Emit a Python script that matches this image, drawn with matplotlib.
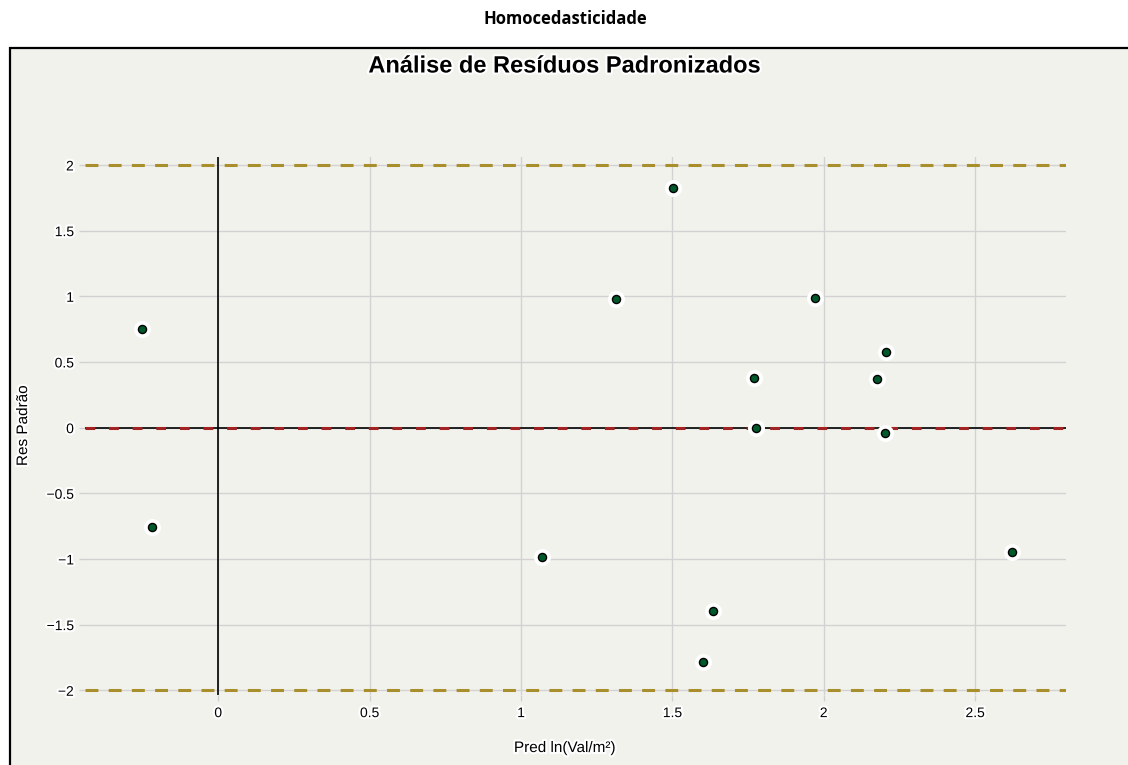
import numpy as np
import matplotlib
matplotlib.use('Agg')
import matplotlib.pyplot as plt
import matplotlib.patheffects as pe
from matplotlib.patches import Rectangle

# valores (predito x residuo padronizado)
pred = [-0.253, -0.218, 1.069, 1.313, 1.503, 1.602, 1.634, 1.769, 1.776,
        1.971, 2.177, 2.201, 2.204, 2.621]
res = [0.749, -0.757, -0.983, 0.982, 1.822, -1.788, -1.394, 0.380, -0.005,
       0.989, 0.372, -0.043, 0.578, -0.947]

xticks = [0, 0.5, 1, 1.5, 2, 2.5]
xtick_labels = ['0', '0.5', '1', '1.5', '2', '2.5']
yticks = [-2, -1.5, -1, -0.5, 0, 0.5, 1, 1.5, 2]
ytick_labels = ['\u22122', '\u22121.5', '\u22121', '\u22120.5', '0', '0.5', '1', '1.5', '2']

plt.rcParams['font.family'] = ['Liberation Sans', 'DejaVu Sans']
plt.rcParams['lines.scale_dashes'] = False

halo = [pe.withStroke(linewidth=3, foreground='white')]
bg = '#f2f2ed'

fig = plt.figure(figsize=(11.28, 7.65), dpi=100)
fig.patch.set_facecolor('white')

# caixa do painel
fig.patches.append(Rectangle((10 / 1128, -0.05), 1.2, 0.05 + 1 - 47.5 / 765,
                             transform=fig.transFigure, facecolor=bg,
                             edgecolor='black', linewidth=1.6, zorder=-5))

fig.text(565 / 1128, 1 - 19 / 765, 'Homocedasticidade', ha='center', va='center',
         fontsize=12, fontweight='bold', family=['Open Sans', 'DejaVu Sans'])
fig.text(565 / 1128, 1 - 66 / 765, 'Análise de Resíduos Padronizados',
         ha='center', va='center', fontsize=17, fontweight='bold',
         color='black', path_effects=halo)

ax = fig.add_axes([85 / 1128, 1 - 695 / 765, (1066 - 85) / 1128, (695 - 156.7) / 765])
ax.set_facecolor(bg)
for s in ax.spines.values():
    s.set_visible(False)

ax.set_xlim(-0.44, 2.8)
ax.set_ylim(-2.036, 2.063)
ax.set_xticks(xticks)
ax.set_xticklabels(xtick_labels)
ax.set_yticks(yticks)
ax.set_yticklabels(ytick_labels)
ax.tick_params(length=4, width=1, color='#d0d0d0', labelsize=10, pad=4)
for lab in ax.get_xticklabels() + ax.get_yticklabels():
    lab.set_path_effects(halo)
ax.grid(True, color='#d2d2d2', linewidth=1)
ax.set_axisbelow(True)

# linhas de zero
ax.axvline(0, color='black', linewidth=1.2, zorder=2)
ax.axhline(0, color='black', linewidth=1.2, zorder=2)
ax.axhline(0, color='#a32222', linewidth=2.2, linestyle=(0, (7, 10)), zorder=3)
# limites +-2
ax.axhline(2, color='#a88f2c', linewidth=2.2, linestyle=(0, (9.3, 7.4)), zorder=3)
ax.axhline(-2, color='#a88f2c', linewidth=2.2, linestyle=(0, (9.3, 7.4)), zorder=3)

ax.scatter(pred, res, s=150, color='white', linewidths=0, zorder=4)
ax.scatter(pred, res, s=34, color='#00592b', edgecolors='black', linewidths=1, zorder=5)

ax.set_xlabel('Pred ln(Val/m²)', fontsize=11, path_effects=halo)
ax.set_ylabel('Res Padrão', fontsize=11, path_effects=halo)
ax.xaxis.set_label_coords(0.489, -0.0855)
ax.yaxis.set_label_coords(-0.056, 0.5)

fig.savefig('out.png', dpi=100)
